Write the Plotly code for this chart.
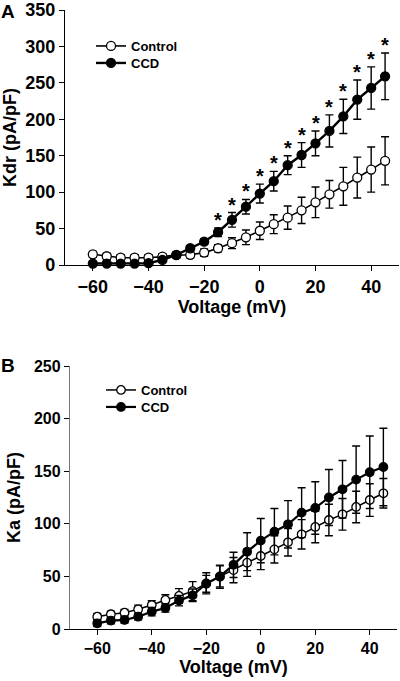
import plotly.graph_objects as go

voltage = [-60, -55, -50, -45, -40, -35, -30, -25, -20, -15, -10, -5,
           0, 5, 10, 15, 20, 25, 30, 35, 40, 45]
x_ticks = [-60, -40, -20, 0, 20, 40]

kdr_control = [14.7, 12, 10, 10, 10, 11.5, 13.5, 14, 17, 23, 30, 38,
               47, 56, 65, 75, 86, 97, 108, 120, 131, 143]
kdr_control_err = [4, 4, 4, 4, 4, 4, 4, 4, 5, 5, 7.5, 10,
                   12, 13, 16, 18, 21, 19, 26, 28, 31, 33]
kdr_ccd = [2, 2, 2, 2, 2.5, 7, 14, 23, 32, 45, 62, 80,
           98, 115, 137, 151, 167, 184, 204, 227, 243, 259]
kdr_ccd_err = [2, 2, 2, 2, 2, 3, 3, 3, 4, 6, 10, 10,
               13, 13.5, 13, 17, 17, 22, 23.5, 27, 29, 32]
kdr_significant = [-15, -10, -5, 0, 5, 10, 15, 20, 25, 30, 35, 40, 45]

ka_control = [11.7, 14, 15.5, 18.7, 22.8, 27.6, 31.4, 36, 43.4, 49.7, 56, 63,
              69.4, 75.7, 82.4, 90, 97, 103.6, 109, 116, 122.6, 129]
ka_control_err = [3, 3, 3, 4, 4, 5, 7, 9, 10, 11, 12, 13,
                  13, 13, 13, 14, 15, 15, 15, 15, 15.5, 14]
ka_ccd = [5.4, 8, 8.6, 11.7, 16.5, 20, 27, 32, 43, 50, 61, 73.5,
          84, 92.5, 99.5, 110.6, 115, 125, 132.8, 142, 149, 154]
ka_ccd_err = [3, 3, 3, 3, 4, 4, 5, 6, 8, 10, 12, 18,
              21, 22, 22.5, 23.7, 25, 26.6, 27.3, 32, 34.5, 36.8]

FONT = "Liberation Sans, Arial, Helvetica, sans-serif"
W, H = 400, 681

fig = go.Figure()


def add_series(y, err, name, filled, xa, ya, legend, lw, msize):
    fig.add_trace(go.Scatter(
        x=voltage, y=y, name=name, mode="lines+markers",
        xaxis=xa, yaxis=ya, legend=legend, showlegend=True, cliponaxis=False,
        line=dict(color="black", width=lw),
        marker=dict(symbol="circle", size=msize,
                    color="black" if filled else "white",
                    line=dict(color="black", width=1.3)),
        error_y=dict(type="data", array=err, visible=True,
                     color="black", thickness=1.4, width=4),
    ))


add_series(kdr_control, kdr_control_err, "Control", False, "x", "y", "legend", 1.6, 9)
add_series(kdr_ccd, kdr_ccd_err, "CCD", True, "x", "y", "legend2", 2.4, 9)
add_series(ka_control, ka_control_err, "Control", False, "x2", "y2", "legend3", 1.5, 8.5)
add_series(ka_ccd, ka_ccd_err, "CCD", True, "x2", "y2", "legend4", 2.2, 8.5)

# significance asterisks above CCD error bars (panel A)
for v in kdr_significant:
    i = voltage.index(v)
    fig.add_annotation(x=v, y=kdr_ccd[i] + kdr_ccd_err[i], xref="x", yref="y",
                       text="*", showarrow=False, yanchor="bottom", yshift=-5,
                       font=dict(family=FONT, size=20, color="black", weight="bold"))

# panel letters
fig.add_annotation(x=8 / W, y=1 - 11 / H, xref="paper", yref="paper", text="A",
                   showarrow=False, xanchor="center", yanchor="middle",
                   font=dict(family=FONT, size=19, color="black", weight="bold"))
fig.add_annotation(x=8 / W, y=1 - 366 / H, xref="paper", yref="paper", text="B",
                   showarrow=False, xanchor="center", yanchor="middle",
                   font=dict(family=FONT, size=19, color="black", weight="bold"))

axis_common = dict(showgrid=False, zeroline=False, showline=True, linecolor="black",
                   linewidth=1.3, ticks="outside", ticklen=5, tickwidth=1.3,
                   tickcolor="black", automargin=False)


def legend_at(left_px, center_px):
    return dict(x=left_px / W, y=1 - center_px / H, xanchor="left", yanchor="middle",
                bgcolor="rgba(0,0,0,0)", borderwidth=0, tracegroupgap=0,
                font=dict(size=13, weight="bold"), visible=True)


fig.update_layout(
    width=W, height=H, margin=dict(l=0, r=0, t=0, b=0, autoexpand=False),
    paper_bgcolor="white", plot_bgcolor="white", showlegend=True,
    font=dict(family=FONT, color="black"),
    xaxis=dict(domain=[65 / W, 399 / W], anchor="y", range=[-70, 50],
               tickvals=x_ticks, tickfont=dict(size=18, weight="bold"),
               title=dict(text="Voltage (mV)", font=dict(size=18, weight="bold"), standoff=3),
               **axis_common),
    yaxis=dict(domain=[1 - 265 / H, 1 - 10 / H], anchor="x", range=[0, 350],
               dtick=50, tickfont=dict(size=18, weight="bold"),
               title=dict(text="Kdr (pA/pF)", font=dict(size=18, weight="bold"), standoff=6),
               **axis_common),
    xaxis2=dict(domain=[70 / W, 397 / W], anchor="y2", range=[-70, 50],
                tickvals=x_ticks, tickfont=dict(size=16, weight="bold"),
                title=dict(text="Voltage (mV)", font=dict(size=18, weight="bold"), standoff=4),
                **axis_common),
    yaxis2=dict(domain=[1 - 629 / H, 1 - 366 / H], anchor="x2", range=[0, 250],
                dtick=50, tickfont=dict(size=16, weight="bold"),
                title=dict(text="Ka (pA/pF)", font=dict(size=18, weight="bold"), standoff=8),
                **{**axis_common, "linecolor": "#777777"}),
    legend=legend_at(91, 46),
    legend2=legend_at(91, 63),
    legend3=legend_at(101, 390),
    legend4=legend_at(101, 407),
)

fig.write_html("out.html", post_script="document.body.style.margin='0px';",
               config={"displayModeBar": False})
